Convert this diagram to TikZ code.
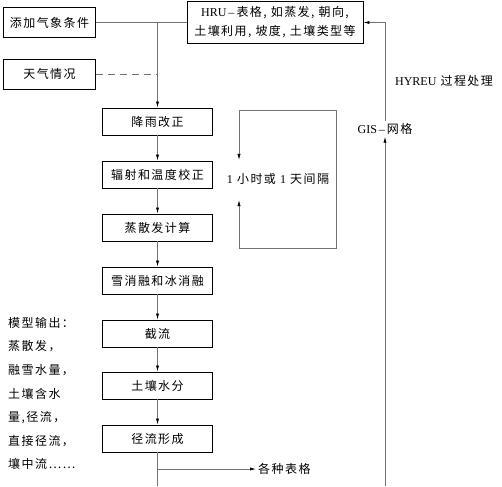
\documentclass[tikz,border=0pt]{standalone}
\usepackage{fontspec}
\setmainfont[LetterSpace=12]{Noto Sans CJK SC}
\newfontfamily\lat{Liberation Serif}
\usetikzlibrary{arrows.meta}
\begin{document}
\begin{tikzpicture}[x=1pt,y=-1pt,
  every node/.style={font=\fontsize{12}{14}\selectfont},
  box/.style={draw=black,line width=0.9pt,minimum width=110pt,minimum height=27pt,inner sep=0pt},
  ln/.style={draw=black!55,line width=0.7pt},
  arr/.style={ln,-{Latex[length=6pt,width=3.2pt,black]}},
  lbl/.style={inner sep=2pt}]
\useasboundingbox (0,0) rectangle (502,486);
% top boxes
\node[box,minimum width=92pt,minimum height=30pt] (met) at (49.5,22.5) {添加气象条件};
\node[box,minimum width=92pt,minimum height=30pt] (wea) at (49.5,74) {天气情况};
\node[box,minimum width=176pt,minimum height=42pt,align=center,
  font=\fontsize{12}{19}\selectfont] (hru) at (275,22.5)
  {{\lat HRU\,–\,}表格, 如蒸发, 朝向,\\土壤利用, 坡度, 土壤类型等};
% column
\node[box] (b1) at (157.5,121.5) {降雨改正};
\node[box] (b2) at (157.5,174.5) {辐射和温度校正};
\node[box] (b3) at (157.5,227.5) {蒸散发计算};
\node[box] (b4) at (157.5,280.5) {雪消融和冰消融};
\node[box] (b5) at (157.5,333.5) {截流};
\node[box] (b6) at (157.5,385.5) {土壤水分};
\node[box] (b7) at (157.5,438.5) {径流形成};
% labels
\node[lbl] (hyreu) at (444,81) {{\lat HYREU} 过程处理};
\node[lbl] (gis) at (385,129) {{\lat GIS\,–\,}网格};
\node[lbl] (loop) at (278,179) {{\lat 1} 小时或 {\lat 1} 天间隔};
\node[lbl,anchor=west] (tab) at (256,469) {各种表格};
\node[anchor=north west,align=left,inner sep=0pt,
  font=\fontsize{12}{23.6}\selectfont] (out) at (8,317)
  {模型输出：\\蒸散发，\\融雪水量，\\土壤含水\\量,径流，\\直接径流，\\壤中流……};
% coordinates
\coordinate (j1) at (157.5,22.5);
\coordinate (j2) at (157.5,74);
\coordinate (bot) at (157.5,486);
\coordinate (br) at (157.5,469);
\coordinate (rbot) at (385,486);
\coordinate (rtop) at (385,22.5);
\coordinate (lt) at (239,110);
\coordinate (rt) at (336,110);
\coordinate (rb) at (336,248);
\coordinate (lb) at (239,248);
\coordinate (ta) at (239,160);
\coordinate (tb) at (239,200);
% connectors
\draw[ln] (met.east) -- (hru.west);
\draw[arr] (j1) -- (b1.north);
\draw[ln,dashed,dash pattern=on 7pt off 5pt] (wea.east) -- (j2);
\draw[arr] (b1) -- (b2);
\draw[arr] (b2) -- (b3);
\draw[arr] (b3) -- (b4);
\draw[arr] (b4) -- (b5);
\draw[arr] (b5) -- (b6);
\draw[arr] (b6) -- (b7);
\draw[ln] (b7.south) -- (bot);
\draw[arr] (br) -- (tab.west);
\draw[arr] (rbot) -- (gis.south);
\draw[arr] (gis.north) -- (rtop) -- (hru.east);
\draw[arr] (lb) -- (tb);
\draw[arr] (lb) -- (rb) -- (rt) -- (lt) -- (ta);
\end{tikzpicture}
\end{document}
